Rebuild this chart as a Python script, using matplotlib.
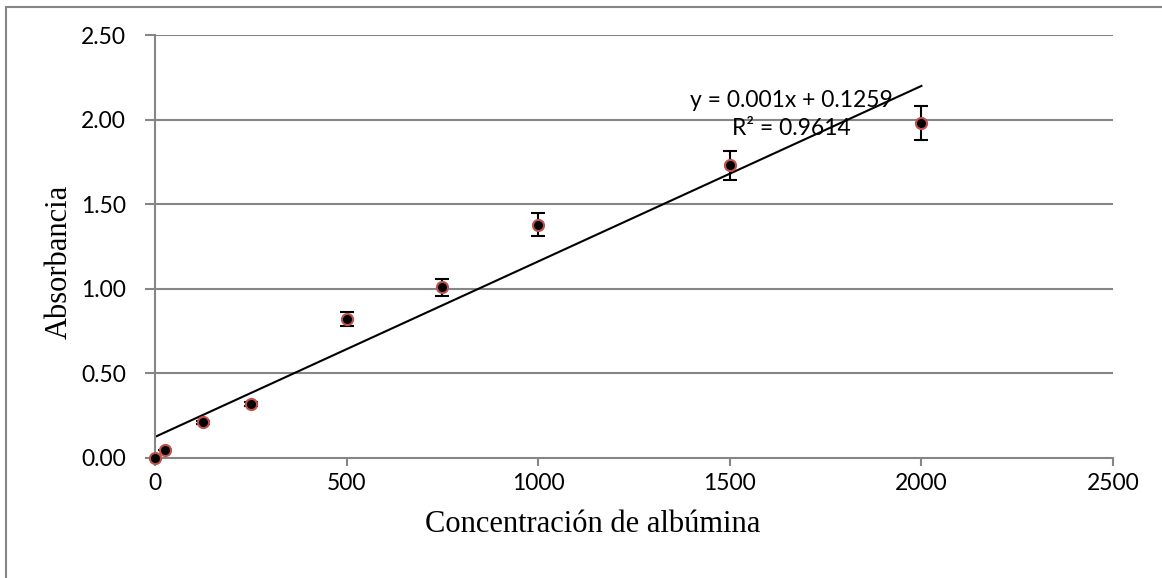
import numpy as np
import matplotlib
matplotlib.use("Agg")
import matplotlib.pyplot as plt
from matplotlib.patches import Rectangle

# Data
concentracion = [0, 25, 125, 250, 500, 750, 1000, 1500, 2000]
absorbancia = [0.00, 0.05, 0.21, 0.32, 0.82, 1.01, 1.38, 1.73, 1.98]
error = [0.0, 0.0, 0.01, 0.01, 0.04, 0.05, 0.07, 0.085, 0.10]
x_ticks = [0, 500, 1000, 1500, 2000, 2500]
y_ticks = [0.0, 0.5, 1.0, 1.5, 2.0, 2.5]
eq_text = "y = 0.001x + 0.1259"
r2_text = "R² = 0.9614"
x_label = "Concentración de albúmina"
y_label = "Absorbancia"

W, H = 1162, 578
fig = plt.figure(figsize=(W / 100, H / 100), dpi=100)
ax = fig.add_axes([155 / W, 1 - 458 / H, (1113 - 155) / W, (458 - 35) / H])

grid_c = "#868686"
# outer frame
fig.patches.append(Rectangle((5.5 / W, -0.1), 1.2, 1 - 6.5 / H + 0.1, transform=fig.transFigure,
                             fill=False, edgecolor=grid_c, lw=1.5, zorder=0))

for yv in y_ticks[1:]:
    ax.axhline(yv, color=grid_c, lw=1.5, zorder=1)

# trendline
coef = np.polyfit(concentracion, absorbancia, 1)
xs = np.array([0, 2000])
ax.plot(xs, np.polyval(coef, xs), color="black", lw=1.5, zorder=2)

eb = ax.errorbar(concentracion, absorbancia, yerr=error, fmt="o", color="black",
                 ecolor="black", elinewidth=1.5, capsize=5, capthick=1.5,
                 markersize=8, markerfacecolor="black", markeredgecolor="#c0504d",
                 markeredgewidth=1.5, zorder=3)
eb[0].set_clip_on(False)

ax.set_xlim(0, 2500)
ax.set_ylim(0, 2.5)
ax.set_xticks(x_ticks)
ax.set_yticks(y_ticks)
ax.set_xticklabels([str(v) for v in x_ticks], fontsize=16.5, family="Lato")
ax.set_yticklabels([f"{v:.2f}" for v in y_ticks], fontsize=16.5, family="Lato")
ax.tick_params(axis="x", direction="out", length=6, width=1.5, color=grid_c, pad=5)
ax.tick_params(axis="y", direction="out", length=7, width=1.5, color=grid_c, pad=14)
for s in ["top", "right"]:
    ax.spines[s].set_visible(False)
for s in ["left", "bottom"]:
    ax.spines[s].set_color(grid_c)
    ax.spines[s].set_linewidth(1.5)

fig.text(593 / W, 1 - 525 / H, x_label, ha="center", va="center",
         fontsize=22, family="Liberation Serif")
fig.text(59 / W, 1 - 262 / H, y_label, ha="center", va="center", rotation=90,
         fontsize=22, family="Liberation Serif")

ax.text(1660, 2.11, eq_text, ha="center", va="center", fontsize=16.5, family="Lato")
ax.text(1660, 1.95, r2_text, ha="center", va="center", fontsize=16.5, family="Lato")

fig.savefig("out.png", dpi=100)
